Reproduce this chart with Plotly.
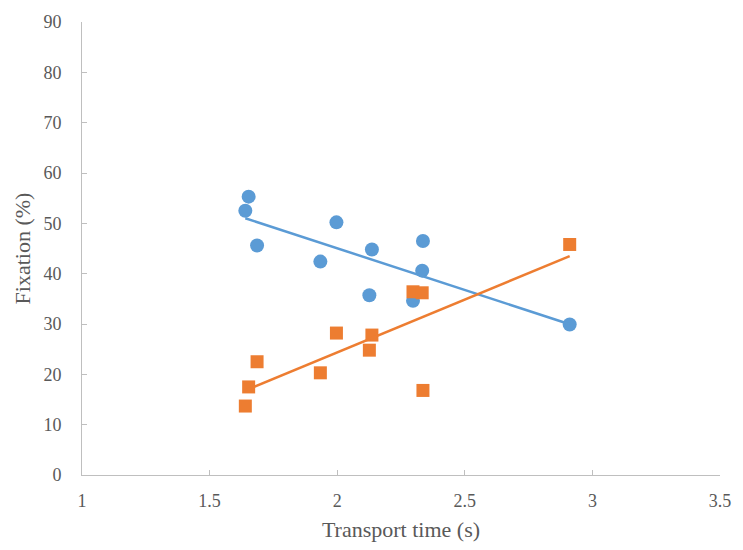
import numpy as np
import plotly.graph_objects as go

transport_time = [1.640, 1.653, 1.686, 1.934, 1.997, 2.126, 2.136, 2.297, 2.333, 2.336, 2.911]
fixation_blue = [52.5, 55.3, 45.6, 42.4, 50.2, 35.7, 44.8, 34.6, 40.6, 46.5, 29.9]
fixation_orange = [13.7, 17.5, 22.5, 20.3, 28.2, 24.8, 27.8, 36.4, 36.2, 16.8, 45.8]

x_ticks = [1, 1.5, 2, 2.5, 3, 3.5]
y_ticks = [0, 10, 20, 30, 40, 50, 60, 70, 80, 90]

BLUE = "#5B9BD5"
ORANGE = "#ED7D31"

x = np.array(transport_time)
fig = go.Figure()

for ys, color, symbol, size in [(fixation_blue, BLUE, "circle", 14), (fixation_orange, ORANGE, "square", 13)]:
    fig.add_trace(go.Scatter(x=transport_time, y=ys, mode="markers",
                             marker=dict(color=color, symbol=symbol, size=size, line=dict(width=0)),
                             showlegend=False))
    m, b = np.polyfit(x, np.array(ys), 1)
    xs = [x.min(), x.max()]
    fig.add_trace(go.Scatter(x=xs, y=[m * v + b for v in xs], mode="lines",
                             line=dict(color=color, width=2.5), showlegend=False))

fig.update_layout(
    width=743, height=550,
    margin=dict(l=82, r=16, t=16, b=74),
    plot_bgcolor="white", paper_bgcolor="white",
    font=dict(family="Liberation Serif, serif", size=18, color="#595959"),
    xaxis=dict(range=[1, 3.5], tickvals=x_ticks, showgrid=False, zeroline=False,
               showline=True, linecolor="#BFBFBF", linewidth=1,
               ticks="inside", ticklen=5, tickcolor="#BFBFBF",
               ticklabelstandoff=9,
               title=dict(text="Transport time (s)", standoff=12)),
    yaxis=dict(range=[0, 90], tickvals=y_ticks, showgrid=False, zeroline=False,
               showline=True, linecolor="#BFBFBF", linewidth=1,
               ticks="inside", ticklen=5, tickcolor="#BFBFBF",
               ticklabelstandoff=16,
               title=dict(text="Fixation (%)", standoff=6)),
)

fig.write_html("out.html")
